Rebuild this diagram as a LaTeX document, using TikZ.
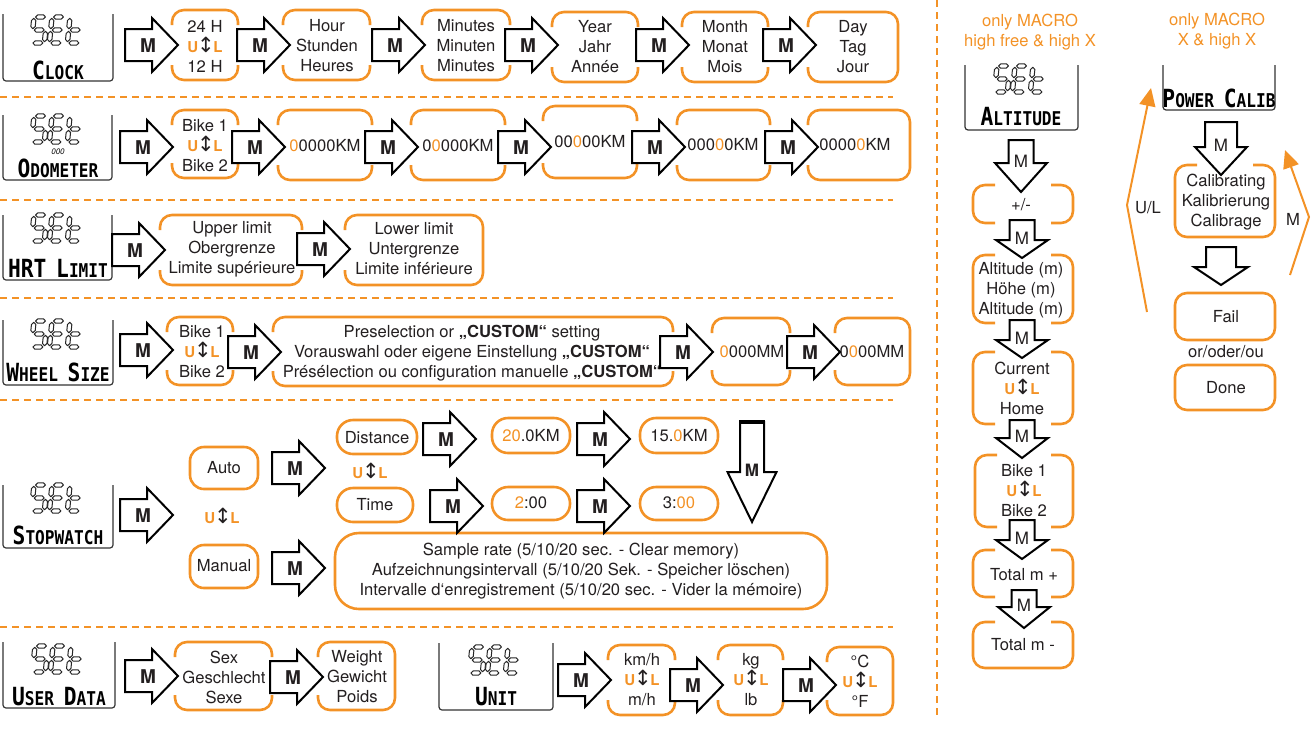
\documentclass[tikz,border=0pt]{standalone}
\usepackage{fontspec}
\usepackage{graphicx}
\setmainfont{TeX Gyre Heros}
\newfontfamily\djv{DejaVu Sans}
\newfontfamily\lcdf{DejaVu Sans Mono}
\usetikzlibrary{arrows.meta}
\definecolor{orng}{RGB}{243,146,38}
\definecolor{tc}{RGB}{35,31,32}
\tikzset{
  txt/.style={font=\fontsize{8.3}{10}\selectfont, text=tc, align=center, inner sep=0pt},
  otxt/.style={txt, text=orng},
  ob/.style={draw=orng, line width=1.3pt, rounded corners=6pt},
  obfull/.style={draw=orng, line width=1.3pt},
  barr/.style={draw=black, line width=1pt, fill=white, line join=miter},
  mlab/.style={font=\fontsize{9.5}{9.5}\selectfont\bfseries, inner sep=0pt, text=tc},
  dlab/.style={font=\fontsize{8.5}{8.5}\selectfont, inner sep=0pt, text=tc},
  lcdframe/.style={draw=black!80, line width=0.6pt, rounded corners=1.5pt},
  seg/.style={draw=black!85, line width=0.5pt, fill=white, line join=round},
  lcdlab/.style={font=\lcdf\bfseries\fontsize{9.5}{10}\selectfont, inner sep=0pt, text=black},
  sepline/.style={draw=orng, line width=0.8pt, dash pattern=on 3.5pt off 2.5pt},
  oarr/.style={draw=orng, line width=1pt, -{Triangle[length=9pt,width=8pt]}},
}
\newcommand\UpL{{\color{orng}\bfseries\fontsize{7.5}{7.5}\selectfont U}\kern-0.6pt{\djv\fontsize{10.5}{10}\selectfont ↕}\kern-0.6pt{\color{orng}\bfseries\fontsize{7.5}{7.5}\selectfont L}}
\newcommand\BL[1]{{\fontsize{12.5}{12}\selectfont #1}}
\newcommand\lcdtxt[1]{\scalebox{0.85}[1]{#1}}
% seven-segment pieces, relative coordinates
\newcommand\hseg[2]{\draw[seg] ({#1+1.5},{#2}) -- ({#1+3.7},{#2-2.2}) -- ({#1+9.3},{#2-2.2}) -- ({#1+11.5},{#2}) -- ({#1+9.3},{#2+2.2}) -- ({#1+3.7},{#2+2.2}) -- cycle;}
\newcommand\vseg[2]{\draw[seg] ({#1},{#2+1.3}) -- ({#1+2.2},{#2+3.5}) -- ({#1+2.2},{#2+9.5}) -- ({#1},{#2+11.7}) -- ({#1-2.2},{#2+9.5}) -- ({#1-2.2},{#2+3.5}) -- cycle;}
\newcommand\setlcd[2]{%
  \begin{scope}[shift={(#1,#2)}, xslant=0.1]
  % S
  \hseg{-24}{0}\vseg{-24}{0}\hseg{-24}{13}\vseg{-11}{13}\hseg{-24}{26}
  % E
  \hseg{-6}{0}\vseg{-6}{0}\hseg{-6}{13}\vseg{-6}{13}\hseg{-6}{26}
  % t
  \vseg{12}{0}\hseg{12}{13}\vseg{12}{13}\hseg{12}{26}
  \end{scope}}
\newcommand\lcdbox[4]{\draw[lcdframe] (#1,#2) -- (#1,#4) -- (#3,#4) -- (#3,#2);}
\newcommand\boxLR[4]{\draw[ob] (#1,{#2+15}) |- (#3,#2) -- (#3,{#2+15}); \draw[ob] (#1,{#4-15}) |- (#3,#4) -- (#3,{#4-15});}
\newcommand\boxL[4]{\draw[ob] (#1,{#2+15}) |- (#3,#2) |- (#1,#4) -- (#1,{#4-15});}
\newcommand\boxTB[4]{\draw[ob] ({#1+22},#2) -| (#1,#4) -- ({#1+22},#4); \draw[ob] ({#3-22},#2) -| (#3,#4) -- ({#3-22},#4);}
\newcommand\boxT[4]{\draw[ob] ({#1+22},#2) -| (#1,#4) -| (#3,#2) -- ({#3-22},#2);}
\newcommand\marr[3]{\draw[barr] (#2,{#3-16}) -- ({#2+27},{#3-16}) -- ({#2+27},{#3-27}) -- ({#2+53},#3) -- ({#2+27},{#3+27}) -- ({#2+27},{#3+16}) -- (#2,{#3+16}) -- cycle; \node[mlab] (#1) at ({#2+23},{#3+1}) {M};}
\newcommand\darr[8]{\draw[barr] ({#2-#7},#3) -- ({#2-#7},#4) -- ({#2-#8},#4) -- (#2,#5) -- ({#2+#8},#4) -- ({#2+#7},#4) -- ({#2+#7},#3) -- cycle; \node[dlab] (#1) at (#2,{#4-2}) {#6};}
\newcommand\og[1]{{\color{orng}#1}}
\begin{document}
\begin{tikzpicture}[x=0.5pt,y=-0.5pt]
\useasboundingbox (0,0) rectangle (1312,729);
% separators
\draw[sepline] (0,97) -- (893,97);
\draw[sepline] (0,200) -- (893,200);
\draw[sepline] (0,298) -- (893,298);
\draw[sepline] (0,400) -- (893,400);
\draw[sepline] (0,627) -- (893,627);
\draw[sepline] (937,0) -- (937,715);

% ---------- Row 1: Clock
\lcdbox{3}{14}{113}{81}\setlcd{58}{17}
\node[lcdlab] (lclock) at (58,70) {\lcdtxt{\BL{C}LOCK}};
\boxLR{172}{10}{238}{80}
\boxLR{283}{10}{370}{80}
\boxLR{422}{10}{510}{80}
\boxLR{552}{12}{638}{82}
\boxLR{682}{12}{768}{82}
\boxL{808}{12}{898}{82}
\node[txt] (r1a) at (205,46) {24 H\\\UpL\\12 H};
\node[txt] (r1b) at (327,46) {Hour\\Stunden\\Heures};
\node[txt] (r1c) at (466,46) {Minutes\\Minuten\\Minutes};
\node[txt] (r1d) at (595,47) {Year\\Jahr\\Année};
\node[txt] (r1e) at (725,47) {Month\\Monat\\Mois};
\node[txt] (r1f) at (853,47) {Day\\Tag\\Jour};
\marr{m1a}{125}{45}\marr{m1b}{237}{45}\marr{m1c}{372}{45}\marr{m1d}{505}{45}\marr{m1e}{636}{45}\marr{m1f}{763}{45}

% ---------- Row 2: Odometer
\lcdbox{3}{115}{112}{180}\setlcd{58}{116}
\node[inner sep=0pt, font=\fontsize{4}{4}\selectfont\itshape] (odo0) at (58,152) {000};
\node[lcdlab] (lodo) at (58,168) {\lcdtxt{\BL{O}DOMETER}};
\boxLR{172}{110}{238}{178}
\boxLR{278}{110}{372}{180}
\boxLR{411}{110}{505}{180}
\boxLR{543}{106}{637}{178}
\boxLR{677}{110}{770}{180}
\boxL{808}{110}{910}{180}
\node[txt] (r2a) at (205,146) {Bike 1\\\UpL\\Bike 2};
\node[txt] (r2b) at (325,146) {\og{0}0000KM};
\node[txt] (r2c) at (458,146) {0\og{0}000KM};
\node[txt] (r2d) at (590,142) {00\og{0}00KM};
\node[txt] (r2e) at (723,145) {000\og{0}0KM};
\node[txt] (r2f) at (855,145) {0000\og{0}KM};
\marr{m2a}{120}{147}\marr{m2b}{232}{147}\marr{m2c}{365}{147}\marr{m2d}{498}{147}\marr{m2e}{632}{147}\marr{m2f}{765}{147}

% ---------- Row 3: HRT limit
\lcdbox{3}{215}{112}{280}\setlcd{58}{215}
\node[lcdlab] (lhrt) at (58,268) {\lcdtxt{\BL{HRT} \BL{L}IMIT}};
\boxLR{160}{215}{302}{285}
\boxL{345}{215}{483}{285}
\node[txt] (r3a) at (232,249) {Upper limit\\Obergrenze\\Limite supérieure};
\node[txt] (r3b) at (414,249) {Lower limit\\Untergrenze\\Limite inférieure};
\marr{m3a}{112}{250}\marr{m3b}{297}{249}

% ---------- Row 4: Wheel size
\lcdbox{3}{320}{113}{385}\setlcd{58}{321}
\node[lcdlab] (lwheel) at (58,372) {\lcdtxt{\BL{W}HEEL \BL{S}IZE}};
\boxLR{167}{317}{233}{385}
\boxLR{273}{317}{673}{386}
\boxLR{712}{318}{790}{385}
\boxL{835}{318}{910}{385}
\node[txt] (r4a) at (202,352) {Bike 1\\\UpL\\Bike 2};
\node[txt] (r4b) at (472,353) {Preselection or \textbf{„CUSTOM“} setting\\Vorauswahl oder eigene Einstellung \textbf{„CUSTOM“}\\Présélection ou configuration manuelle \textbf{„CUSTOM“}};
\node[txt] (r4c) at (752,352) {\og{0}000MM};
\node[txt] (r4d) at (872,352) {0\og{0}00MM};
\marr{m4a}{120}{350}\marr{m4b}{228}{352}\marr{m4c}{660}{352}\marr{m4d}{787}{352}

% ---------- Row 5: Stopwatch
\lcdbox{3}{485}{113}{548}\setlcd{58}{485}
\node[lcdlab] (lstop) at (58,535) {\lcdtxt{\BL{S}TOPWATCH}};
\draw[obfull, rounded corners=7pt] (190,447) rectangle (258,489);
\draw[obfull, rounded corners=7pt] (190,545) rectangle (258,588);
\node[txt] (auto) at (224,468) {Auto};
\node[txt] (manual) at (224,566) {Manual};
\node[txt] (ul5a) at (222,516) {\UpL};
\draw[obfull, rounded corners=8pt] (337,420) rectangle (417,454);
\draw[obfull, rounded corners=8pt] (337,488) rectangle (413,522);
\node[txt] (dist) at (377,438) {Distance};
\node[txt] (time) at (375,505) {Time};
\node[txt] (ul5b) at (370,471) {\UpL};
\draw[obfull, rounded corners=8pt] (492,418) rectangle (570,453);
\draw[obfull, rounded corners=8pt] (640,418) rectangle (718,453);
\draw[obfull, rounded corners=8pt] (492,487) rectangle (570,520);
\draw[obfull, rounded corners=8pt] (640,487) rectangle (718,520);
\node[txt] (d20) at (531,436) {\og{20}.0KM};
\node[txt] (d15) at (679,436) {15.\og{0}KM};
\node[txt] (t2) at (531,503) {\og{2}:00};
\node[txt] (t3) at (679,503) {3:\og{00}};
\draw[obfull, rounded corners=12pt] (335,533) rectangle (827,609);
\node[txt] (sample) at (581,571) {Sample rate (5/10/20 sec. - Clear memory)\\Aufzeichnungsintervall (5/10/20 Sek. - Speicher löschen)\\Intervalle d‘enregistrement (5/10/20 sec. - Vider la mémoire)};
\marr{m5a}{120}{515}\marr{m5b}{272}{468}\marr{m5c}{272}{568}
\marr{m5d}{423}{439}\marr{m5e}{577}{439}\marr{m5f}{430}{506}\marr{m5g}{577}{506}
\darr{m5h}{752}{422}{472}{522}{\bfseries M}{12}{24.5}
\draw[line width=2pt] (739,422) -- (765,422);

% ---------- Row 6: User data & Unit
\lcdbox{3}{642}{115}{708}\setlcd{59}{646}
\node[lcdlab] (luser) at (59,697) {\lcdtxt{\BL{U}SER \BL{D}ATA}};
\boxLR{175}{642}{272}{710}
\boxL{318}{642}{395}{710}
\node[txt] (sex) at (224,677) {Sex\\Geschlecht\\Sexe};
\node[txt] (weight) at (357,677) {Weight\\Gewicht\\Poids};
\marr{m6a}{125}{676}\marr{m6b}{270}{677}
\lcdbox{439}{643}{553}{710}\setlcd{496}{647}
\node[lcdlab] (lunit) at (496,697) {\lcdtxt{\BL{U}NIT}};
\boxLR{608}{645}{675}{715}
\boxLR{718}{645}{783}{715}
\boxL{827}{647}{893}{715}
\node[txt] (kmh) at (642,680) {km/h\\\UpL\\m/h};
\node[txt] (kg) at (751,680) {kg\\\UpL\\lb};
\node[txt] (degc) at (860,681) {°C\\\UpL\\°F};
\marr{m6c}{558}{680}\marr{m6d}{670}{685}\marr{m6e}{783}{685}

% ---------- Altitude column
\node[otxt] (altnote) at (1030,32) {only MACRO\\high free \& high X};
\lcdbox{965}{65}{1078}{130}\setlcd{1021}{66}
\node[lcdlab] (lalt) at (1021,117) {\lcdtxt{\BL{A}LTITUDE}};
\boxTB{973}{185}{1073}{223}
\boxTB{973}{255}{1073}{323}
\boxTB{973}{352}{1073}{424}
\boxTB{975}{455}{1073}{527}
\boxTB{973}{550}{1073}{597}
\boxT{973}{622}{1073}{668}
\node[txt] (pm) at (1021,205) {+/-};
\node[txt] (altm) at (1021,290) {Altitude (m)\\Höhe (m)\\Altitude (m)};
\node[txt] (cur) at (1022,388) {Current\\\UpL\\Home};
\node[txt] (abike) at (1024,491) {Bike 1\\\UpL\\Bike 2};
\node[txt] (totp) at (1024,575) {Total m +};
\node[txt] (totm) at (1023,645) {Total m -};
\darr{a1}{1021}{140}{163}{192}{M}{12.5}{26}
\darr{a2}{1022}{220}{240}{258}{M}{12.5}{26}
\darr{a3}{1022}{320}{340}{358}{M}{12.5}{26}
\darr{a4}{1022}{420}{438}{458}{M}{12.5}{26}
\darr{a5}{1022}{520}{540}{559}{M}{12.5}{26}
\darr{a6}{1024}{590}{607}{628}{M}{12.5}{26}

% ---------- Power calib column
\node[otxt] (pcnote) at (1217,31) {only MACRO\\X \& high X};
\lcdbox{1163}{65}{1275}{110}
\node[lcdlab] (lpc) at (1219,98) {\lcdtxt{\BL{P}OWER \BL{C}ALIB}};
\boxT{1175}{165}{1275}{237}
\node[txt] (calib) at (1226,202) {Calibrating\\Kalibrierung\\Calibrage};
\draw[obfull, rounded corners=6pt] (1175,293) rectangle (1275,340);
\draw[obfull, rounded corners=6pt] (1175,365) rectangle (1275,410);
\node[txt] (fail) at (1226,317) {Fail};
\node[txt] (oder) at (1226,352) {or/oder/ou};
\node[txt] (done) at (1226,388) {Done};
\darr{p1}{1221}{122}{147}{175}{M}{16}{26}
\darr{p2}{1221}{247}{267}{285}{}{15}{27}
\coordinate (ulA) at (1147,312);
\coordinate (ulB) at (1127,205);
\coordinate (ulC) at (1151,88);
\coordinate (mA) at (1290,275);
\coordinate (mB) at (1309,217);
\coordinate (mC) at (1285,150);
\draw[oarr] (ulA) -- (ulB) -- (ulC);
\draw[oarr] (mA) -- (mB) -- (mC);
\node[txt] (ullab) at (1148,208) {U/L};
\node[txt] (mlab) at (1293,219) {M};
\end{tikzpicture}
\end{document}
